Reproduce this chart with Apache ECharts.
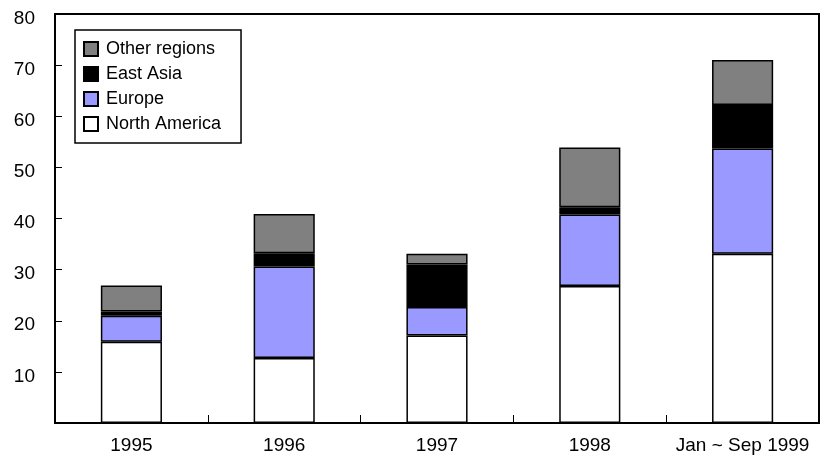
<!DOCTYPE html>
<html>
<head>
<meta charset="utf-8">
<script src="https://cdn.jsdelivr.net/npm/echarts@6/dist/echarts.min.js"></script>
<style>
  html, body { margin: 0; padding: 0; background: #ffffff; }
  #chart { width: 820px; height: 468px; }
</style>
</head>
<body>
<div id="chart"></div>
<script>
// Categories along the x axis
const categories = ['1995', '1996', '1997', '1998', 'Jan ~ Sep 1999'];

// Stacked values per region
const northAmerica = [15.9, 12.7, 17.1, 26.8, 33.1];
const europe       = [5.1, 17.9, 5.6, 14.0, 20.6];
const eastAsia     = [0.8, 2.6, 8.3, 1.4, 8.5];
const otherRegions = [5.1, 7.7, 2.1, 11.7, 8.8];

// Value axis tick labels (0 is left blank)
const yTicks = [10, 20, 30, 40, 50, 60, 70, 80];

const FONT = 'Liberation Sans, Arial, sans-serif';

function barSeries(name, data, color) {
  return {
    name: name,
    type: 'bar',
    stack: 'total',
    data: data,
    barWidth: '40%',
    itemStyle: { color: color, borderColor: '#000000', borderWidth: 1.5 },
    emphasis: { disabled: true }
  };
}

const chart = echarts.init(document.getElementById('chart'), null, { renderer: 'canvas' });
chart.setOption({
  animation: false,
  backgroundColor: '#ffffff',
  grid: {
    left: 55, top: 14, right: 1, bottom: 45,
    show: true, borderColor: '#000000', borderWidth: 2, backgroundColor: 'transparent'
  },
  legend: {
    orient: 'vertical',
    left: 75, top: 30,
    data: ['Other regions', 'East Asia', 'Europe', 'North America'],
    icon: 'rect',
    itemWidth: 14, itemHeight: 14, itemGap: 7,
    padding: [10, 20, 10, 8],
    borderColor: '#000000', borderWidth: 1.5,
    backgroundColor: '#ffffff',
    textStyle: { fontFamily: FONT, fontSize: 18, color: '#000000', padding: [0, 0, 0, 3] },
    selectedMode: false
  },
  xAxis: {
    type: 'category',
    data: categories,
    boundaryGap: true,
    axisLine: { show: true, lineStyle: { color: '#000000', width: 2 } },
    axisTick: { show: true, inside: true, interval: 0, length: 8, lineStyle: { color: '#000000', width: 1 } },
    axisLabel: { interval: 0, hideOverlap: false, fontFamily: FONT, fontSize: 19, color: '#000000', margin: 13 },
    splitLine: { show: false }
  },
  yAxis: {
    type: 'value',
    min: 0, max: 80, interval: 10,
    axisLine: { show: true, lineStyle: { color: '#000000', width: 2 } },
    axisTick: { show: true, inside: true, length: 7, lineStyle: { color: '#000000', width: 1 } },
    axisLabel: {
      fontFamily: FONT, fontSize: 19, color: '#000000', margin: 20,
      verticalAlign: 'top', lineHeight: 9,
      formatter: function (v) { return yTicks.indexOf(v) >= 0 ? String(v) : ''; }
    },
    splitLine: { show: false }
  },
  series: [
    barSeries('North America', northAmerica, '#ffffff'),
    barSeries('Europe', europe, '#9999ff'),
    barSeries('East Asia', eastAsia, '#000000'),
    barSeries('Other regions', otherRegions, '#808080')
  ]
});
</script>
</body>
</html>
